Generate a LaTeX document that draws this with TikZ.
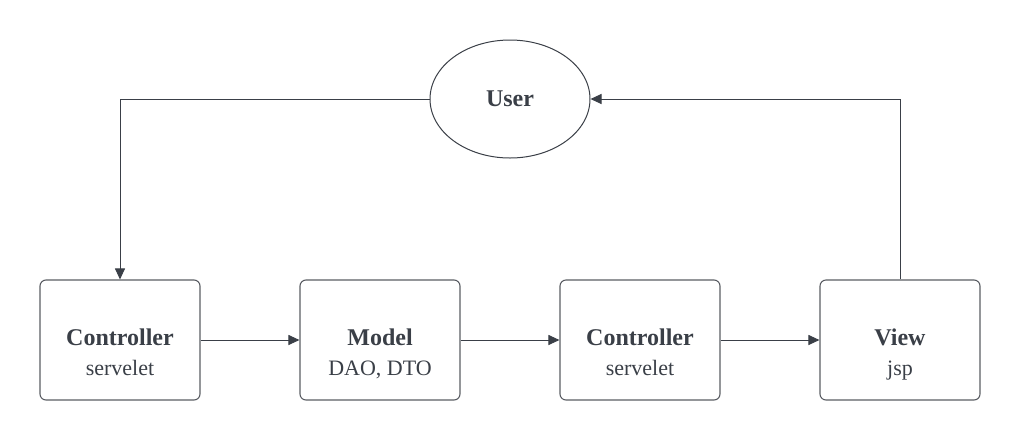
\documentclass[tikz,border=0pt]{standalone}
\usepackage{fontspec}
\setmainfont{Liberation Serif}
\usetikzlibrary{arrows.meta,shapes.geometric}
\definecolor{ink}{HTML}{3A3F47}
\definecolor{edge}{HTML}{5A5D63}
\begin{document}
\begin{tikzpicture}[x=1pt,y=-1pt,
  box/.style={draw=edge,line width=1.1pt,rounded corners=6pt,minimum width=160pt,minimum height=120pt,inner sep=0pt},
  title/.style={anchor=base,inner sep=0pt,text=ink,font=\bfseries\fontsize{24}{28}\selectfont},
  sub/.style={anchor=base,inner sep=0pt,text=ink,font=\fontsize{22}{26}\selectfont},
  usr/.style={draw=ink,line width=1pt,ellipse,minimum width=160pt,minimum height=118pt,inner sep=0pt},
  conn/.style={draw=ink,line width=1pt,-{Triangle[length=11pt,width=10pt]}}]
\useasboundingbox (0,0) rectangle (1020,440);
\node[usr] (user) at (510,99) {};
\node[title] (usert) at (510,106) {User};
\node[box] (c1) at (120,340) {};
\node[box] (m) at (380,340) {};
\node[box] (c2) at (640,340) {};
\node[box] (v) at (900,340) {};
\node[title] (c1t) at (120,345) {Controller};
\node[sub] (c1s) at (120,375) {servelet};
\node[title] (mt) at (380,345) {Model};
\node[sub] (ms) at (380,375) {DAO, DTO};
\node[title] (c2t) at (640,345) {Controller};
\node[sub] (c2s) at (640,375) {servelet};
\node[title] (vt) at (900,345) {View};
\node[sub] (vs) at (900,375) {jsp};
\draw[conn] (user.west) -| (c1.north);
\draw[conn] (c1.east) -- (m.west);
\draw[conn] (m.east) -- (c2.west);
\draw[conn] (c2.east) -- (v.west);
\draw[conn] (v.north) |- (user.east);
\end{tikzpicture}
\end{document}
